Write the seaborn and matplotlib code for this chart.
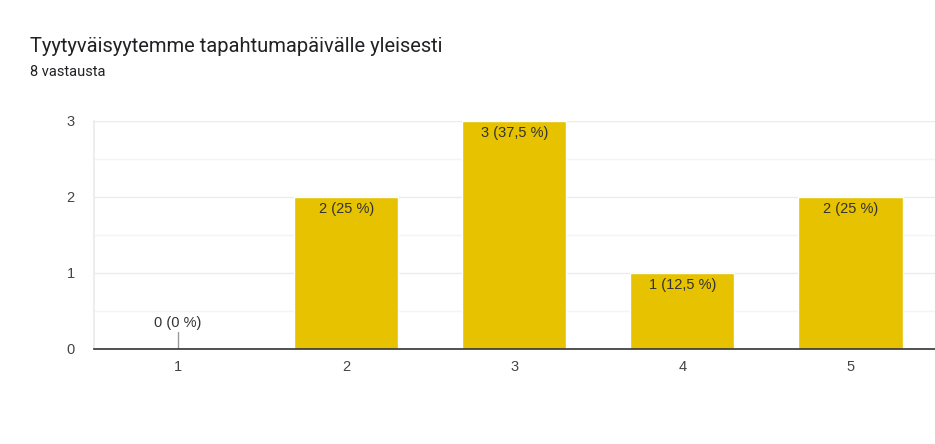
import matplotlib
matplotlib.use("Agg")
import matplotlib.pyplot as plt
import seaborn as sns
import pandas as pd

categories = ["1", "2", "3", "4", "5"]
counts = [0, 2, 3, 1, 2]
labels = ["0 (0 %)", "2 (25 %)", "3 (37,5 %)", "1 (12,5 %)", "2 (25 %)"]

df = pd.DataFrame({"arvo": categories, "maara": counts})

sns.set_theme(style="white")
plt.rcParams['font.family'] = ['Liberation Sans', 'DejaVu Sans']

fig = plt.figure(figsize=(9.35, 4.44), dpi=100)
ax = fig.add_axes([0.1005, 0.214, 0.899, 0.5135])

sns.barplot(data=df, x="arvo", y="maara", color="#e6c200", width=0.62,
            saturation=1, ax=ax, zorder=3)

ax.set_ylim(0, 3)
ax.set_xlim(-0.5, 4.5)
ax.set_yticks([0, 1, 2, 3])
ax.set_yticks([0.5, 1.5, 2.5], minor=True)
ax.grid(axis="y", which="major", color="#ebebeb", lw=1, zorder=0)
ax.grid(axis="y", which="minor", color="#f4f4f4", lw=1, zorder=0)
ax.set_xlabel("")
ax.set_ylabel("")
ax.tick_params(axis="both", length=0, labelsize=10.5, labelcolor="#444444")
ax.tick_params(axis="x", pad=8)
ax.tick_params(axis="y", pad=14)

for s in ["top", "right"]:
    ax.spines[s].set_visible(False)
ax.spines["left"].set_color("#ebebeb")
ax.spines["bottom"].set_color("#333333")
ax.spines["bottom"].set_linewidth(1.2)
ax.spines["bottom"].set_zorder(5)

for i, (c, lab) in enumerate(zip(counts, labels)):
    if c == 0:
        ax.plot([i, i], [0, 0.22], color="#999999", lw=1, zorder=4)
        ax.text(i, 0.25, lab, ha="center", va="bottom", fontsize=10.5, color="#333333")
    else:
        ax.text(i, c - 0.06, lab, ha="center", va="top", fontsize=10.5, color="#333333", zorder=5)

fig.text(0.032, 0.895, "Tyytyväisyytemme tapahtumapäivälle yleisesti", fontsize=14.5,
         color="#202124", va="center", family=["Roboto", "DejaVu Sans"])
fig.text(0.032, 0.838, "8 vastausta", fontsize=10.5, color="#202124", va="center",
         family=["Roboto", "DejaVu Sans"])

fig.savefig("out.png", dpi=100)
